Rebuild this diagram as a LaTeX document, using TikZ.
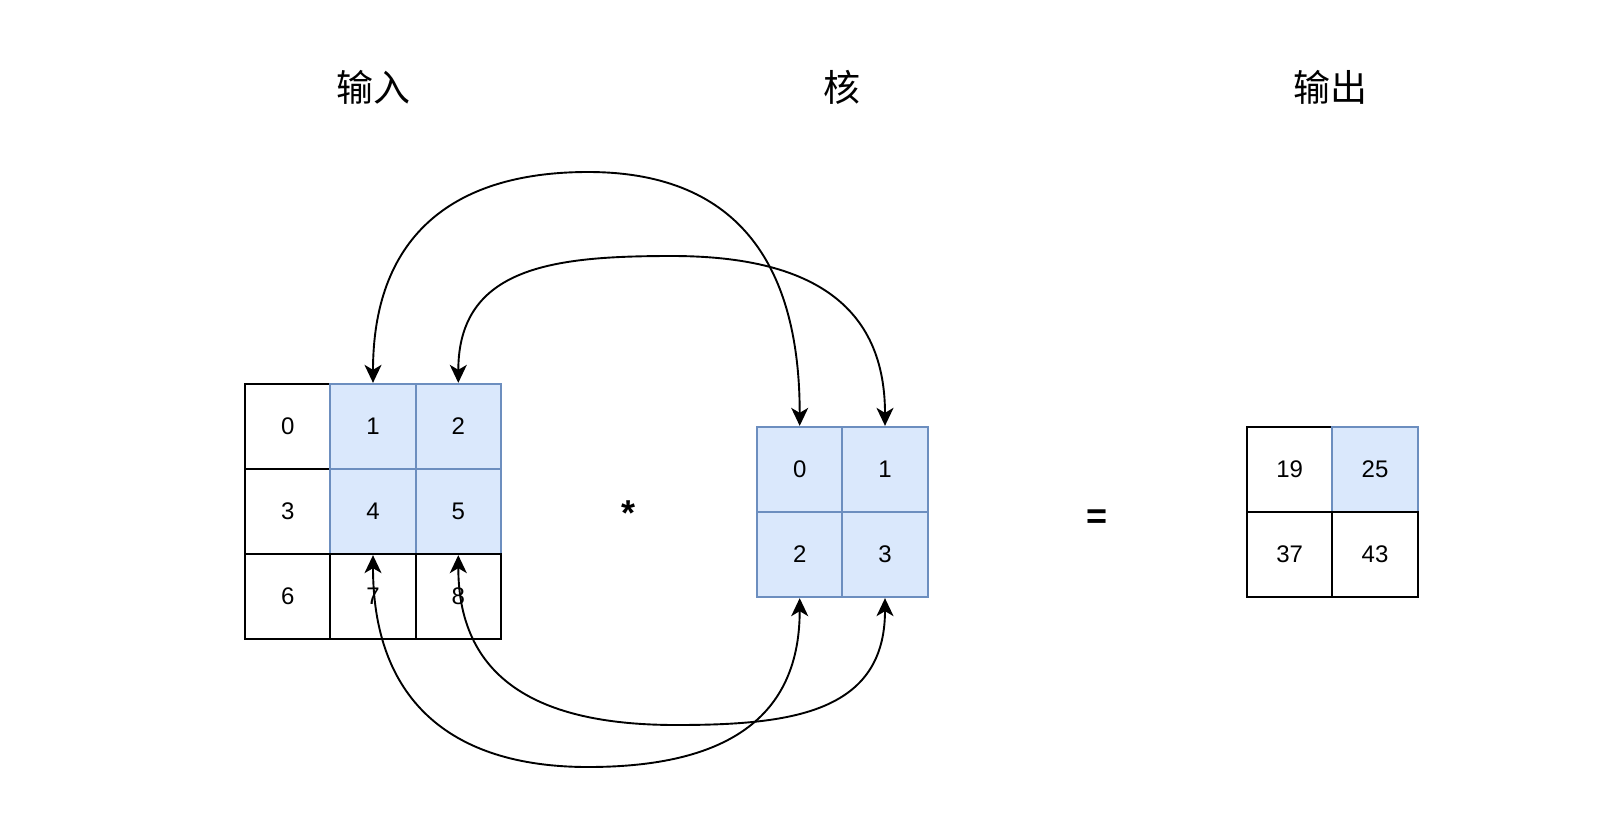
\documentclass[tikz,border=0pt]{standalone}
\usepackage{fontspec}
\setmainfont{Liberation Sans}
\newfontfamily\cjkfont{Noto Sans CJK SC}
\usetikzlibrary{arrows.meta}
\definecolor{cellblue}{HTML}{DAE8FC}
\definecolor{lineblue}{HTML}{6C8EBF}
\tikzset{>={Stealth[length=18pt,width=17pt,inset=5pt]},
  cellbox/.style={draw,fill=white,line width=2pt,minimum size=85.3pt,inner sep=0pt,
    font=\fontsize{24}{28}\selectfont},
  bluebox/.style={cellbox,draw=lineblue,fill=cellblue},
  title/.style={font=\cjkfont\fontsize{37}{42}\selectfont},
  opsign/.style={font=\bfseries\fontsize{36}{40}\selectfont},
  conn/.style={<->,line width=1.9pt,looseness=1.2}}

\begin{document}
\begin{tikzpicture}[x=1pt,y=-1pt]
\path[fill=white] (0,0) rectangle (1601,812);
\useasboundingbox (0,0) rectangle (1601,812);
\node[title] (tin) at (373,87) {输入};
\node[title] (tker) at (842,87) {核};
\node[title] (tout) at (1330.5,87) {输出};
% input
\node[cellbox] (i0) at (287.7,426.5) {0};
\node[bluebox] (i1) at (373,426.5) {1};
\node[bluebox] (i2) at (458.3,426.5) {2};
\node[cellbox] (i3) at (287.7,511.5) {3};
\node[bluebox] (i4) at (373,511.5) {4};
\node[bluebox] (i5) at (458.3,511.5) {5};
\node[cellbox] (i6) at (287.7,596.5) {6};
\node[cellbox] (i7) at (373,596.5) {7};
\node[cellbox] (i8) at (458.3,596.5) {8};
% kernel
\node[bluebox] (k0) at (799.7,469.5) {0};
\node[bluebox] (k1) at (885,469.5) {1};
\node[bluebox] (k2) at (799.7,554.5) {2};
\node[bluebox] (k3) at (885,554.5) {3};
% output
\node[cellbox] (o0) at (1289.7,469.5) {19};
\node[bluebox] (o1) at (1375,469.5) {25};
\node[cellbox] (o2) at (1289.7,554.5) {37};
\node[cellbox] (o3) at (1375,554.5) {43};
\node[opsign] (star) at (628,513) {*};
\node[opsign] (eq) at (1097,519) {=};
% connectors
\coordinate (p1) at (588,172);
\coordinate (p2) at (672,256);
\coordinate (q1) at (588,767);
\coordinate (q2) at (676,725);
\draw[conn] (i1.north) to[out=90,in=180] (p1) to[out=0,in=90] (k0.north);
\draw[conn] (i2.north) to[out=90,in=180] (p2) to[out=0,in=90] (k1.north);
\draw[conn] (i4.south) to[out=-90,in=180] (q1) to[out=0,in=-90] (k2.south);
\draw[conn] (i5.south) to[out=-90,in=180] (q2) to[out=0,in=-90] (k3.south);
\end{tikzpicture}
\end{document}
